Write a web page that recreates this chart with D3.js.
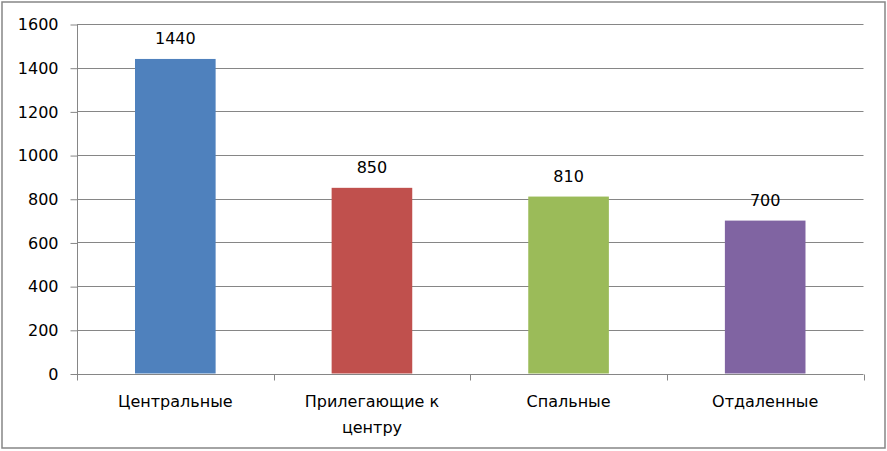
<!DOCTYPE html>
<html><head><meta charset="utf-8">
<script src="https://cdn.jsdelivr.net/npm/d3@7"></script>
<style>body{margin:0;background:#fff}svg{display:block}</style>
</head><body>
<svg id="c" width="887" height="451"></svg>
<script>
const categories = ["Центральные", "Прилегающие к центру", "Спальные", "Отдаленные"];
const categoryLines = [["Центральные"], ["Прилегающие к", "центру"], ["Спальные"], ["Отдаленные"]];
const values = [1440, 850, 810, 700];
const colors = ["#4F81BD", "#C0504D", "#9BBB59", "#8064A2"];
const yTicks = [0, 200, 400, 600, 800, 1000, 1200, 1400, 1600];

const svg = d3.select("#c");
const font = "'DejaVu Sans', sans-serif";
svg.append("rect").attr("x", 2).attr("y", 2).attr("width", 883).attr("height", 446)
  .attr("fill", "#fff").attr("stroke", "#868686").attr("stroke-width", 1.5);

const L = 77, R = 863.5, T = 24, B = 373.5;
const x = d3.scaleBand().domain(categories).range([L, R]).paddingInner(0.59).paddingOuter(0.295);
const xb = d3.scaleBand().domain(categories).range([L, R]);
const y = d3.scaleLinear().domain([0, 1600]).range([B, T]);

const g = svg.append("g");
// gridlines
g.selectAll(".grid").data(yTicks.filter(d => d > 0)).join("line")
  .attr("x1", L).attr("x2", R).attr("y1", d => Math.round(y(d)) + 0.5).attr("y2", d => Math.round(y(d)) + 0.5)
  .attr("stroke", "#868686").attr("stroke-width", 1);

// bars
g.selectAll(".bar").data(values).join("rect")
  .attr("x", (d, i) => x(categories[i])).attr("width", x.bandwidth())
  .attr("y", d => y(d)).attr("height", d => B - y(d))
  .attr("fill", (d, i) => colors[i]);

// y axis
const yAxis = d3.axisLeft(y).tickValues(yTicks).tickSize(7).tickPadding(12).tickFormat(d3.format("d"));
const ya = svg.append("g").attr("transform", `translate(${L + 0.5},0.5)`).call(yAxis);
ya.select(".domain").attr("stroke", "#868686").attr("d", `M0,${T - 0.5}V${B}`);
ya.selectAll(".tick line").attr("stroke", "#868686");
ya.selectAll(".tick text").attr("font-family", font).attr("font-size", 16).attr("fill", "#000");

// x axis
const xa = svg.append("g").attr("transform", `translate(0,${Math.round(B) + 0.5})`);
xa.append("line").attr("x1", L).attr("x2", R).attr("stroke", "#868686");
const bounds = categories.map(c => xb(c)).concat([R]);
xa.selectAll(".xt").data(bounds).join("line")
  .attr("x1", d => Math.round(d) + 0.5).attr("x2", d => Math.round(d) + 0.5).attr("y1", 0).attr("y2", 6)
  .attr("stroke", "#868686");
const lbl = xa.selectAll(".xl").data(categories).join("text")
  .attr("text-anchor", "middle").attr("font-family", font).attr("font-size", 16).attr("fill", "#000")
  .attr("transform", c => `translate(${xb(c) + xb.bandwidth() / 2},32)`);
lbl.selectAll("tspan").data((c, i) => categoryLines[i]).join("tspan")
  .attr("x", 0).attr("dy", (d, j) => j === 0 ? 0 : 26).text(d => d);

// value labels
g.selectAll(".val").data(values).join("text")
  .attr("x", (d, i) => xb(categories[i]) + xb.bandwidth() / 2)
  .attr("y", d => y(d) - 15)
  .attr("text-anchor", "middle").attr("font-family", font).attr("font-size", 16).attr("fill", "#000")
  .text(d => d);
</script>
</body></html>
